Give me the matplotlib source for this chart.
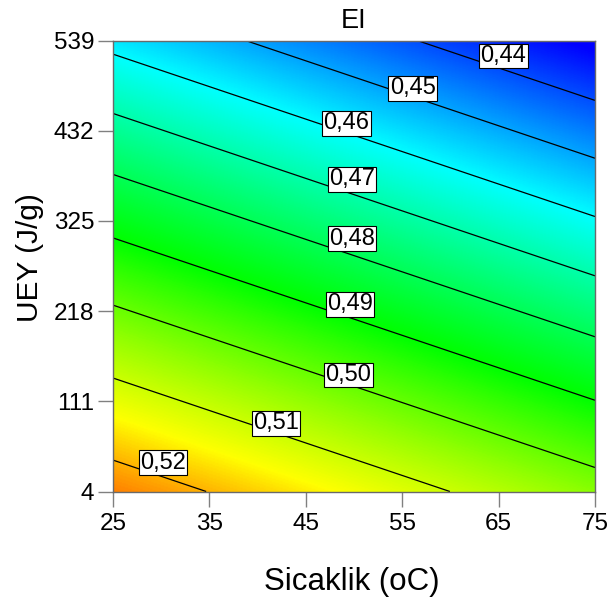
import numpy as np
import matplotlib
matplotlib.use("Agg")
import matplotlib.pyplot as plt
from matplotlib.colors import LinearSegmentedColormap, Normalize

plt.rcParams["font.family"] = ["Liberation Sans", "DejaVu Sans"]

# Factor ranges and tick values
temp_range = [25, 75]          # Sicaklik (oC)
uey_range = [4, 539]           # UEY (J/g)
x_ticks = [25, 35, 45, 55, 65, 75]
y_ticks = [4, 111, 218, 325, 432, 539]

# EI cubic response model in coded factors A (temperature) and B (UEY)
model_terms = ["1", "A", "B", "AB", "A2", "B2", "A2B", "AB2", "A3", "B3"]
model_coefs = [0.48167, -0.012990, -0.036082, -0.001998, -0.0003596,
               -0.002775, 0.0003383, 0.0009396, 0.0000406, 0.00087]

contour_levels = [0.44, 0.45, 0.46, 0.47, 0.48, 0.49, 0.50, 0.51, 0.52]

# Colour ramp: response value at each colour stop
ramp_values = [0.431, 0.460, 0.490, 0.515, 0.532]
ramp_colors = ["#0000ff", "#00ffff", "#00ff00", "#ffff00", "#ff0000"]

# Label anchor for each contour level (temperature, UEY)
label_spots = [(65.5, 520.6), (56.1, 482.3), (49.2, 440.8), (49.8, 374.3),
               (49.8, 303.8), (49.6, 226.2), (49.4, 142.2), (41.9, 84.9),
               (30.2, 38.4)]


def ei_model(t, u):
    a = (t - np.mean(temp_range)) / (np.diff(temp_range)[0] / 2)
    b = (u - np.mean(uey_range)) / (np.diff(uey_range)[0] / 2)
    basis = {"1": np.ones_like(a), "A": a, "B": b, "AB": a * b,
             "A2": a ** 2, "B2": b ** 2, "A2B": a ** 2 * b,
             "AB2": a * b ** 2, "A3": a ** 3, "B3": b ** 3}
    return sum(c * basis[k] for k, c in zip(model_terms, model_coefs))


t = np.linspace(temp_range[0], temp_range[1], 400)
u = np.linspace(uey_range[0], uey_range[1], 400)
T, U = np.meshgrid(t, u)
Z = ei_model(T, U)

vmin, vmax = ramp_values[0], ramp_values[-1]
stops = [(v - vmin) / (vmax - vmin) for v in ramp_values]
cmap = LinearSegmentedColormap.from_list("de_ramp", list(zip(stops, ramp_colors)))
norm = Normalize(vmin=vmin, vmax=vmax)

fig = plt.figure(figsize=(6.09, 6.08), dpi=100)
ax = fig.add_axes([113 / 609, 1 - 491.5 / 608, 482 / 609, 451 / 608])

ax.pcolormesh(T, U, Z, cmap=cmap, norm=norm, shading="gouraud", rasterized=True)
ax.contour(T, U, Z, levels=contour_levels, colors="black", linewidths=0.9)

# Boxed, horizontal level labels
for level, (lx, ly) in zip(contour_levels, label_spots):
    ax.text(lx, ly, f"{level:.2f}".replace(".", ","), fontsize=17,
            ha="center", va="center", zorder=5,
            bbox=dict(facecolor="white", edgecolor="black", linewidth=0.8,
                      boxstyle="square,pad=0.06"))

ax.set_xlim(temp_range)
ax.set_ylim(uey_range)
ax.set_xticks(x_ticks)
ax.set_yticks(y_ticks)
ax.tick_params(direction="out", length=10.5, width=1, color="#808080",
               labelsize=17.5)
ax.tick_params(axis="x", pad=5)
ax.tick_params(axis="y", pad=3)
for side in ax.spines.values():
    side.set_color("#6a6a6a")
    side.set_linewidth(1)

fig.text(354 / 609, 1 - 21 / 608, "EI", ha="center", va="center", fontsize=19.5)
fig.text(352 / 609, 1 - 582 / 608, "Sicaklik (oC)", ha="center", va="center",
         fontsize=22.5)
fig.text(30 / 609, 1 - 258 / 608, "UEY (J/g)", ha="center", va="center",
         rotation=90, fontsize=21.5)

fig.savefig("out.png", dpi=100)
